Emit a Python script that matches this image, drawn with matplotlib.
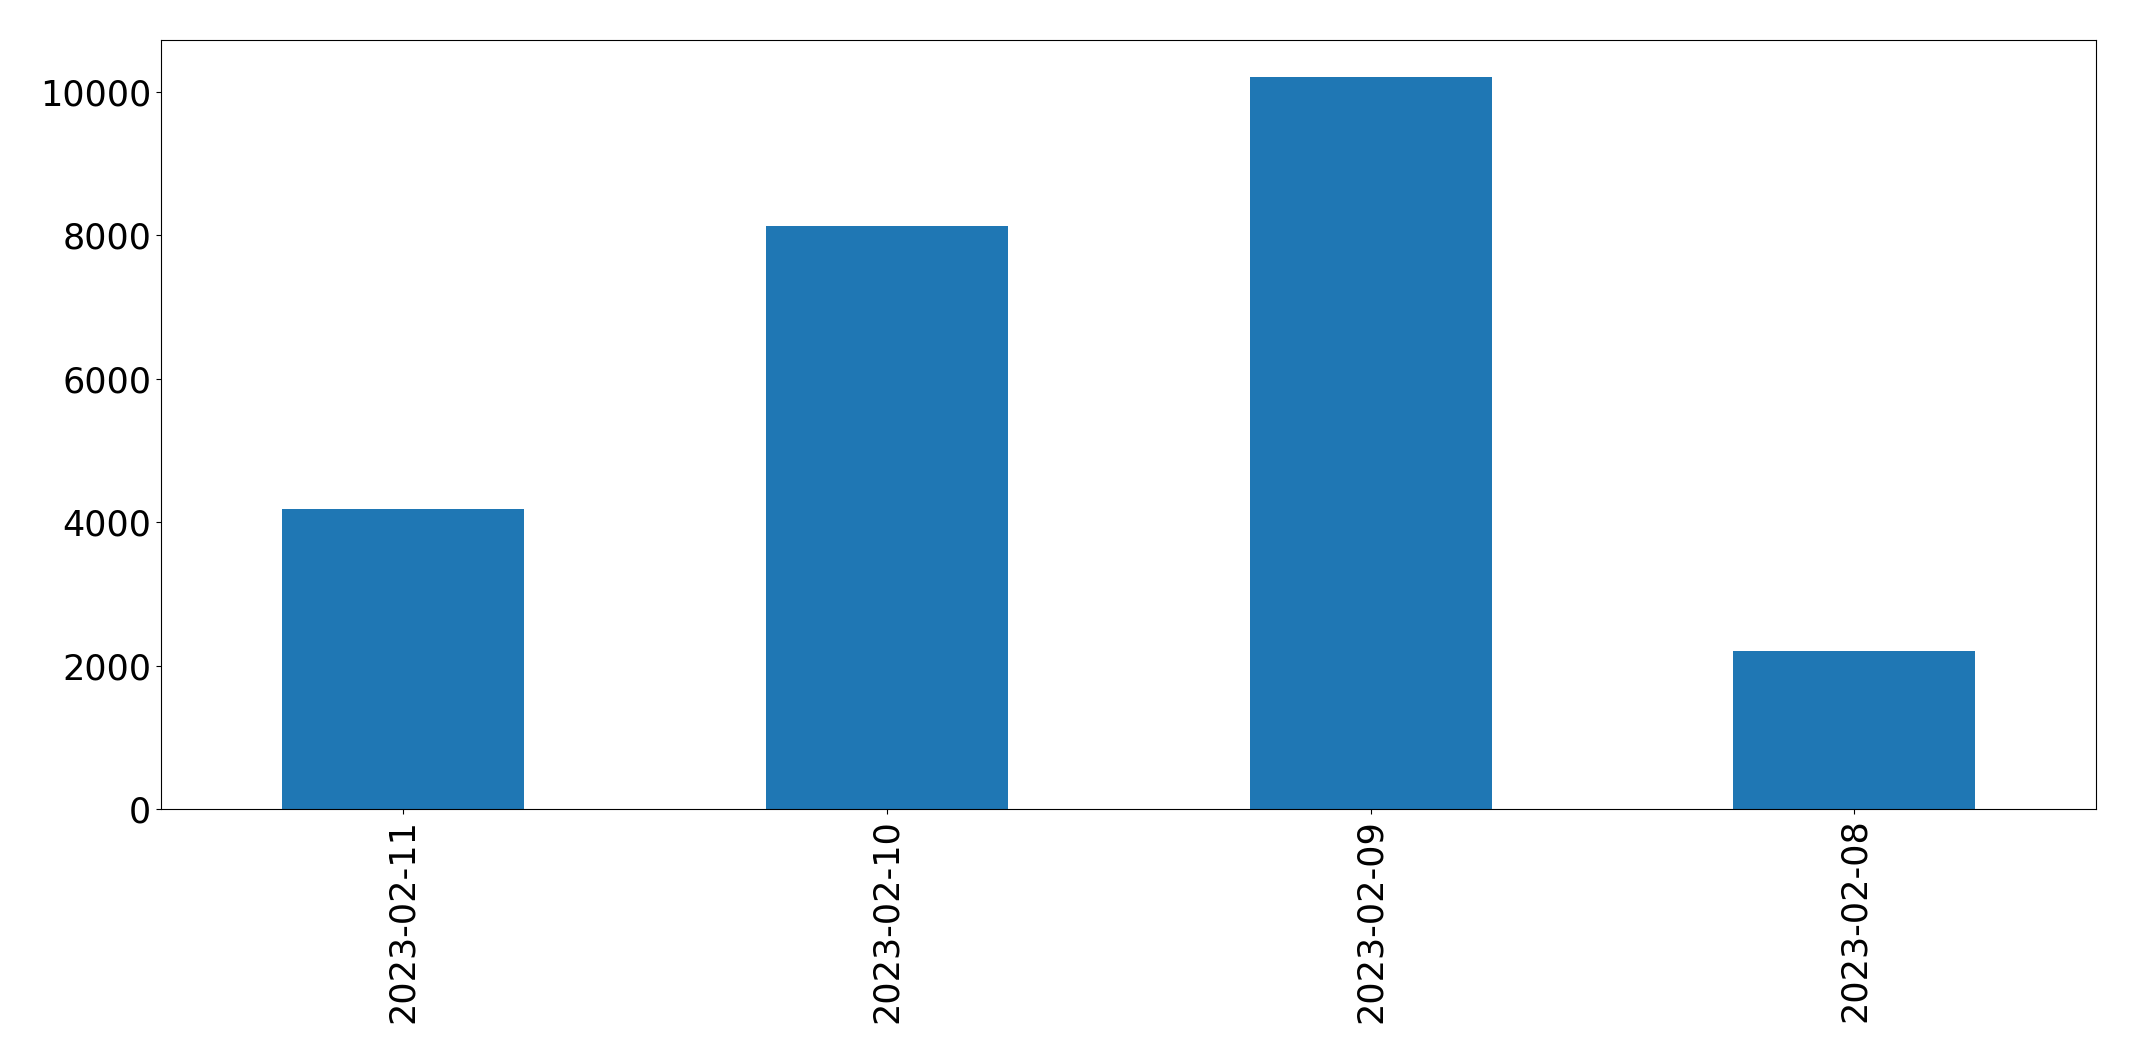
import matplotlib
matplotlib.use("Agg")
import matplotlib.pyplot as plt

# Data
dates = ["2023-02-11", "2023-02-10", "2023-02-09", "2023-02-08"]
counts = [4190, 8135, 10210, 2200]

fig = plt.figure(figsize=(21.37, 10.61), dpi=100)
ax = fig.add_axes([0.0753, 0.2375, 0.9057, 0.7245])

x = list(range(len(dates)))
ax.bar(x, counts, width=0.5, color="#1f77b4")
ax.set_xlim(-0.5, len(dates) - 0.5)
ax.set_xticks(x)
ax.set_xticklabels(dates, rotation=90)
ax.tick_params(axis="both", labelsize=25.2)

fig.savefig("out.png", dpi=100)
